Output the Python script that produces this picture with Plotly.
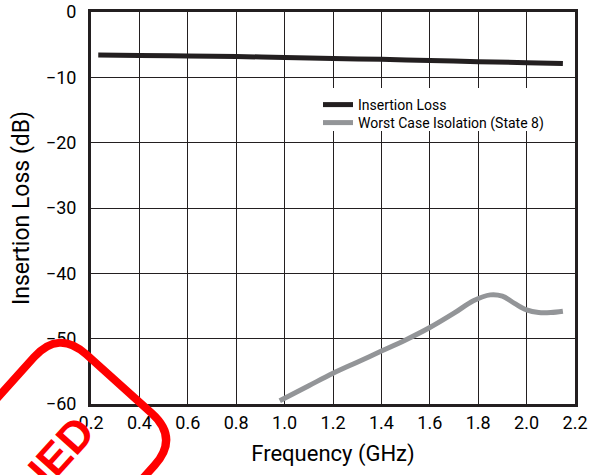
import math
import plotly.graph_objects as go

# Frequency sweep, insertion loss and worst-case isolation (dB)
il_freq = [0.23, 0.4, 0.6, 0.8, 1.0, 1.2, 1.4, 1.6, 1.8, 2.0, 2.15]
il_db = [-6.6, -6.65, -6.72, -6.82, -6.95, -7.1, -7.25, -7.42, -7.6, -7.75, -7.88]

iso_freq = [0.98, 1.1, 1.2, 1.3, 1.4, 1.5, 1.6, 1.7, 1.78, 1.85, 1.9, 1.95, 2.0, 2.05, 2.1, 2.15]
iso_db = [-59.5, -57.2, -55.3, -53.6, -51.9, -50.2, -48.3, -46.1, -44.2, -43.3, -43.5, -44.6, -45.6, -46.0, -46.0, -45.8]

x_ticks = [0.2, 0.4, 0.6, 0.8, 1.0, 1.2, 1.4, 1.6, 1.8, 2.0, 2.2]
y_ticks = [0, -10, -20, -30, -40, -50, -60]

W, H = 595, 475
ML, MR, MT, MB = 91, 20, 12, 71
PW, PH = W - ML - MR, H - MT - MB

FONT = "Roboto, Arial, sans-serif"
INK = "#231f20"
GREY = "#939598"
RED = "#ff0000"


def to_paper(px, py):
    return (px - ML) / PW, 1 - (py - MT) / PH


fig = go.Figure()
fig.add_trace(go.Scatter(x=il_freq, y=il_db, mode="lines", name="Insertion Loss",
                         legend="legend",
                         line=dict(color=INK, width=5, shape="spline")))
fig.add_trace(go.Scatter(x=iso_freq, y=iso_db, mode="lines", name="Worst Case Isolation (State 8)",
                         legend="legend2",
                         line=dict(color=GREY, width=5, shape="spline")))

axis_common = dict(showgrid=True, gridcolor=INK, gridwidth=1, showline=True, linecolor=INK,
                   linewidth=3, mirror=True, ticks="", zeroline=False, automargin=False,
                   tickfont=dict(family=FONT, size=18, color="#000"))

fig.update_xaxes(range=[0.2, 2.2], tickvals=x_ticks, tickformat=".1f",
                 title=dict(text="Frequency (GHz)", font=dict(family=FONT, size=22, color="#000"), standoff=15),
                 ticklabelstandoff=0, **axis_common)
fig.update_yaxes(range=[-60, 0], tickvals=y_ticks,
                 title=dict(text="Insertion Loss (dB)", font=dict(family=FONT, size=23, color="#000"), standoff=10),
                 ticklabelstandoff=8, **axis_common)

# Two single-entry legends stacked on one white panel
legend_style = dict(xanchor="left", yanchor="top", bgcolor="rgba(0,0,0,0)",
                    font=dict(family=FONT, size=14, color="#000"),
                    itemwidth=30, borderwidth=0)
l1x, l1y = to_paper(318, 89)
l2x, l2y = to_paper(318, 107)
fig.update_layout(
    width=W, height=H,
    margin=dict(l=ML, r=MR, t=MT, b=MB),
    paper_bgcolor="white", plot_bgcolor="white",
    showlegend=True,
    legend=dict(x=l1x, y=l1y, **legend_style),
    legend2=dict(x=l2x, y=l2y, **legend_style),
)
px0, py0 = to_paper(312, 88)
px1, py1 = to_paper(558, 131)
fig.add_shape(type="rect", xref="paper", yref="paper", x0=px0, y0=py0, x1=px1, y1=py1,
              layer="above", line=dict(width=0), fillcolor="white")

# Red rubber-stamp frame across the lower-left corner
ang = math.radians(48)
d = (-math.cos(ang), math.sin(ang))   # along the long side (down-left)
n = (math.sin(ang), math.cos(ang))    # along the short side (down-right)
A = (58.8, 329.6)
span, length, r = 162.0, 460.0, 37.0
B = (A[0] + span * n[0], A[1] + span * n[1])
C = (B[0] + length * d[0], B[1] + length * d[1])
D = (A[0] + length * d[0], A[1] + length * d[1])


def off(p, v, k):
    return (p[0] + k * v[0], p[1] + k * v[1])


def fmt(p):
    u, v = to_paper(*p)
    return f"{u:.5f},{v:.5f}"


path = (
    f"M{fmt(off(A, n, r))} L{fmt(off(B, n, -r))} Q{fmt(B)} {fmt(off(B, d, r))} "
    f"L{fmt(off(C, d, -r))} Q{fmt(C)} {fmt(off(C, n, -r))} "
    f"L{fmt(off(D, n, r))} Q{fmt(D)} {fmt(off(D, d, -r))} "
    f"L{fmt(off(A, d, r))} Q{fmt(A)} {fmt(off(A, n, r))} Z"
)
fig.add_shape(type="path", path=path, xref="paper", yref="paper", layer="above",
              line=dict(color=RED, width=8), fillcolor="rgba(0,0,0,0)")

stamp_size = 44
stamp_text = "DISCONTINUED"
tw = 7.611 * stamp_size
e = (-d[0], -d[1])
last = (75, 435)
k = tw / 2 - 0.361 * stamp_size
cx, cy = last[0] - k * e[0], last[1] - k * e[1]
su, sv = to_paper(cx, cy)
fig.add_annotation(x=su, y=sv, xref="paper", yref="paper", text=stamp_text, showarrow=False,
                   textangle=-48, xanchor="center", yanchor="middle",
                   font=dict(family="Liberation Sans, Arial, sans-serif", size=stamp_size,
                             color=RED, weight="bold"))

fig.write_html("out.html")
